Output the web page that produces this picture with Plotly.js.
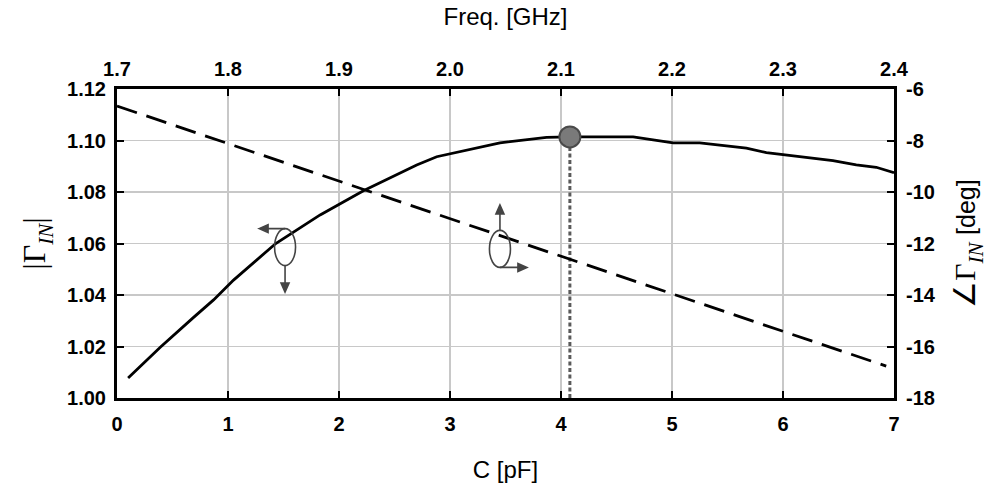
<!DOCTYPE html>
<html>
<head>
<meta charset="utf-8">
<script src="https://cdn.plot.ly/plotly-3.0.1.min.js"></script>
<style>html,body{margin:0;padding:0;background:#fff;}#chart{width:1000px;height:491px;}</style>
</head>
<body>
<div id="chart"></div>
<script>
// Solid curve: |Gamma_IN| vs C [pF] (bottom / left axes)
const cValues   = [0.1, 0.39, 0.69, 0.87, 1.05, 1.43, 1.83, 2.22, 2.70, 2.88, 3.45, 3.87, 4.08, 4.65, 5.01, 5.25, 5.67, 5.85, 6.45, 6.66, 6.84, 7.0];
const gammaMag  = [1.0078, 1.0197, 1.0313, 1.0381, 1.0458, 1.0600, 1.0711, 1.0805, 1.0905, 1.0937, 1.0991, 1.1012, 1.1014, 1.1014, 1.0991, 1.0991, 1.0970, 1.0953, 1.0922, 1.0905, 1.0896, 1.0875];
// Dashed line: angle of Gamma_IN [deg] vs frequency [GHz] (top / right axes)
const freqValues = [1.7, 1.8, 1.9, 2.0, 2.1, 2.2, 2.3, 2.393];
const gammaAngle = [-6.66, -8.12, -9.6, -11.05, -12.5, -13.95, -15.41, -16.76];
// Highlighted peak
const peakC = [4.08];
const peakGamma = [1.1014];
// Tick labels
const cTicks = [0, 1, 2, 3, 4, 5, 6, 7];
const freqTicks = [1.7, 1.8, 1.9, 2.0, 2.1, 2.2, 2.3, 2.4];
const freqTickText = ['1.7', '1.8', '1.9', '2.0', '2.1', '2.2', '2.3', '2.4'];
const magTicks = [1.00, 1.02, 1.04, 1.06, 1.08, 1.10, 1.12];
const magTickText = ['1.00', '1.02', '1.04', '1.06', '1.08', '1.10', '1.12'];
const angleTicks = [-18, -16, -14, -12, -10, -8, -6];
const angleTickText = ['-18', '-16', '-14', '-12', '-10', '-8', '-6'];

const sansFont = 'Liberation Sans, Arial, sans-serif';
const serifFont = 'Liberation Serif, Times New Roman, serif';
const tickFont = {family: sansFont, size: 20, color: '#000', weight: 'bold'};
const axisCommon = {
  showline: true, linecolor: '#000', linewidth: 3,
  ticks: 'inside', ticklen: 7, tickwidth: 2, tickcolor: '#000',
  tickfont: tickFont, zeroline: false, fixedrange: true, automargin: false
};

const subIN = '<span style="font-size:21px;font-style:italic;baseline-shift:-8px">IN</span>';

const traces = [
  {x: [peakC[0], peakC[0]], y: [magTicks[0], peakGamma[0]], xaxis: 'x', yaxis: 'y', mode: 'lines',
   line: {color: '#5a5a5a', width: 3, dash: '4px,2.5px'}, showlegend: false, hoverinfo: 'skip'},
  {x: cValues, y: gammaMag, xaxis: 'x', yaxis: 'y', mode: 'lines',
   line: {color: '#000', width: 2.8}, showlegend: false},
  {x: peakC, y: peakGamma, xaxis: 'x', yaxis: 'y', mode: 'markers',
   marker: {size: 21, color: '#7a7a7a', line: {color: '#4a4a4a', width: 2}}, showlegend: false},
  {x: freqValues, y: gammaAngle, xaxis: 'x2', yaxis: 'y2', mode: 'lines',
   line: {color: '#000', width: 2.8, dash: '21px,10px'}, showlegend: false}
];

// Axis-indicator ellipses (anchor in data coords, size in pixels)
const leftMarkC = 1.514, leftMarkG = 1.0586;
const rightMarkC = 3.450, rightMarkG = 1.0579;
const deco = {color: '#444', width: 1.6};
function ellipse(cx, cy) {
  return {type: 'circle', xref: 'x', yref: 'y', xsizemode: 'pixel', ysizemode: 'pixel',
    xanchor: cx, yanchor: cy, x0: -10.5, x1: 10.5, y0: -18.5, y1: 18.5, line: deco, layer: 'above'};
}
function arrow(cx, cy, path) {
  return {type: 'path', xref: 'x', yref: 'y', xsizemode: 'pixel', ysizemode: 'pixel',
    xanchor: cx, yanchor: cy, path: path, line: deco, fillcolor: '#444', layer: 'above'};
}

const layout = {
  width: 1000, height: 491,
  margin: {l: 117, r: 106, t: 89, b: 93},
  paper_bgcolor: '#fff', plot_bgcolor: '#fff',
  showlegend: false,
  xaxis: Object.assign({}, axisCommon, {
    range: [0, 7], tickvals: cTicks, ticktext: cTicks.map(String),
    showgrid: true, gridcolor: '#c8c8c8', gridwidth: 1.5, ticklabelstandoff: 6,
    title: {text: 'C [pF]', font: {family: sansFont, size: 24, color: '#000'}, standoff: 28}
  }),
  xaxis2: Object.assign({}, axisCommon, {
    range: [1.7, 2.4], tickvals: freqTicks, ticktext: freqTickText,
    overlaying: 'x', side: 'top', showgrid: false, ticklabelstandoff: 2,
    title: {text: 'Freq. [GHz]', font: {family: sansFont, size: 24, color: '#000'}, standoff: 26}
  }),
  yaxis: Object.assign({}, axisCommon, {
    range: [1.00, 1.12], tickvals: magTicks, ticktext: magTickText,
    showgrid: true, gridcolor: '#c8c8c8', gridwidth: 1.5, ticklabelstandoff: 4,
    title: {text: '|Γ' + subIN + '|', font: {family: serifFont, size: 32, color: '#000'}, standoff: 12}
  }),
  yaxis2: Object.assign({}, axisCommon, {
    range: [-18, -6], tickvals: angleTicks, ticktext: angleTickText,
    overlaying: 'y', side: 'right', showgrid: false, ticklabelstandoff: 5,
    title: {text: '∠Γ' + subIN + ' <span style="font-family:Liberation Sans, Arial, sans-serif;font-size:25px">[deg]</span>',
            font: {family: serifFont, size: 30, color: '#000'}, standoff: 20}
  }),
  shapes: [
    ellipse(leftMarkC, leftMarkG),
    arrow(leftMarkC, leftMarkG, 'M 0 18.5 L -18 18.5 M -26 18.5 L -17 22.5 L -17 14.5 Z'),
    arrow(leftMarkC, leftMarkG, 'M 0 -18.5 L 0 -37 M 0 -45 L -4 -36 L 4 -36 Z'),
    ellipse(rightMarkC, rightMarkG),
    arrow(rightMarkC, rightMarkG, 'M 0 18.5 L 0 36 M 0 44 L -4 35 L 4 35 Z'),
    arrow(rightMarkC, rightMarkG, 'M 0 -18.5 L 19 -18.5 M 27 -18.5 L 18 -14.5 L 18 -22.5 Z')
  ]
};

Plotly.newPlot('chart', traces, layout, {staticPlot: true, displayModeBar: false});
</script>
</body>
</html>
